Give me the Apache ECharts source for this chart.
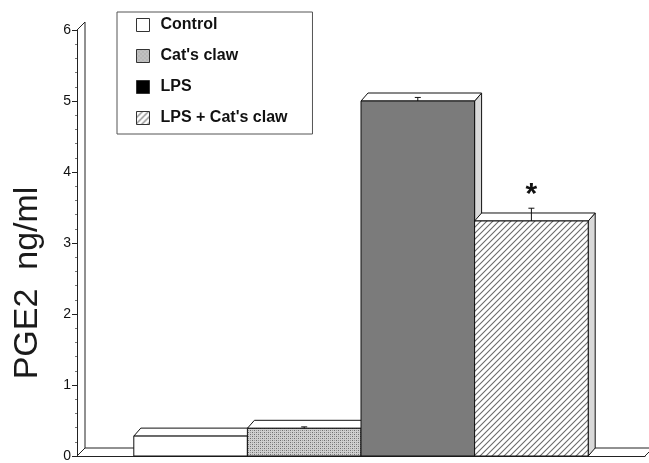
<!DOCTYPE html>
<html><head><meta charset="utf-8">
<script src="https://cdn.jsdelivr.net/npm/echarts@6/dist/echarts.min.js"></script>
<style>html,body{margin:0;padding:0;background:#fff}#c{width:649px;height:463px}</style>
</head><body><div id="c"></div>
<script>
// ---- data ----
const groups = ['Control', "Cat's claw", 'LPS', "LPS + Cat's claw"];
const values = [0.28, 0.39, 5.0, 3.31];
const errors = [0.0, 0.02, 0.05, 0.18];
const significant = [false, false, false, true];
const yTicks = [0, 1, 2, 3, 4, 5, 6];
const yLabel = 'PGE2  ng/ml';

// ---- patterns ----
function makeHatch() {
  const c = document.createElement('canvas'); c.width = 6; c.height = 6;
  const g = c.getContext('2d');
  g.fillStyle = '#ffffff'; g.fillRect(0, 0, 6, 6);
  g.strokeStyle = '#6a6a6a'; g.lineWidth = 1.1;
  g.beginPath();
  g.moveTo(0, 6); g.lineTo(6, 0);
  g.moveTo(-1, 1); g.lineTo(1, -1);
  g.moveTo(5, 7); g.lineTo(7, 5);
  g.stroke();
  return { image: c, repeat: 'repeat' };
}
function makeStipple() {
  const c = document.createElement('canvas'); c.width = 4; c.height = 4;
  const g = c.getContext('2d');
  g.fillStyle = '#cfcfcf'; g.fillRect(0, 0, 4, 4);
  g.fillStyle = '#6f6f6f';
  g.fillRect(0, 0, 1, 1); g.fillRect(2, 2, 1, 1);
  g.fillStyle = '#9a9a9a';
  g.fillRect(2, 0, 1, 1); g.fillRect(0, 2, 1, 1);
  return { image: c, repeat: 'repeat' };
}
const hatch = makeHatch();
const stipple = makeStipple();
const frontFill = ['#ffffff', stipple, '#7b7b7b', hatch];
const legendFill = ['#ffffff', stipple, '#000000', hatch];

const DX = 7, DY = 8;
const yMin = yTicks[0], yMax = yTicks[yTicks.length - 1];
const nBars = groups.length;
const groupFrac = 0.8;

function frameRender(params, api) {
  const cs = params.coordSys;
  const x0 = cs.x, x1 = cs.x + cs.width;
  const yb = api.coord([0, yMin])[1];
  const yt = api.coord([0, yMax])[1];
  const st = { stroke: '#222', lineWidth: 1 };
  const ln = (a, b, c, d) => ({ type: 'line', shape: { x1: a, y1: b, x2: c, y2: d }, style: st, silent: true });
  return { type: 'group', children: [
    ln(x0 + DX + 1, yb - DY, x0 + DX + 1, yt - DY),
    ln(x0, yt, x0 + DX + 1, yt - DY),
    ln(x0, yb, x0 + DX + 1, yb - DY),
    ln(x0 + DX + 1, yb - DY, x1 + DX + 1, yb - DY),
    ln(x1, yb, x1 + DX + 1, yb - DY)
  ]};
}

function barRender(i) {
  return function (params, api) {
    const v = api.value(1), e = api.value(2);
    const base = api.coord([api.value(0), 0]);
    const top = api.coord([api.value(0), v]);
    const band = api.size([1, 0])[0];
    const w = band * groupFrac / nBars;
    const xa = base[0] - band * groupFrac / 2 + i * w;
    const xb = xa + w;
    const yb = base[1], yt = top[1];
    const cx = (xa + xb) / 2;
    const ye = api.coord([api.value(0), v + e])[1];
    const outline = { stroke: '#111', lineWidth: 1 };
    const children = [
      { type: 'polygon', shape: { points: [[xb, yt], [xb + DX, yt - DY], [xb + DX, yb - DY], [xb, yb]] },
        style: Object.assign({ fill: '#d9d9d9' }, outline) },
      { type: 'polygon', shape: { points: [[xa, yt], [xa + DX, yt - DY], [xb + DX, yt - DY], [xb, yt]] },
        style: Object.assign({ fill: '#ffffff' }, outline) },
      { type: 'rect', shape: { x: xa, y: yt, width: w, height: yb - yt },
        style: Object.assign({ fill: frontFill[i] }, outline) }
    ];
    if (e > 0) {
      children.push({ type: 'line', shape: { x1: cx, y1: yt, x2: cx, y2: ye }, style: { stroke: '#111', lineWidth: 1 } });
      children.push({ type: 'line', shape: { x1: cx - 3, y1: ye, x2: cx + 3, y2: ye }, style: { stroke: '#111', lineWidth: 1 } });
    }
    if (significant[i]) {
      children.push({ type: 'text', style: { text: '*', x: cx, y: ye + 2, align: 'center', verticalAlign: 'bottom',
        font: 'bold 30px "Liberation Sans", Arial, sans-serif', fill: '#111' } });
    }
    return { type: 'group', children };
  };
}

const series = [{
  type: 'custom', name: '__frame', renderItem: frameRender, data: [[0, 0]], silent: true, z: 1
}];
groups.forEach((g, i) => {
  series.push({
    type: 'custom', name: g, renderItem: barRender(i),
    itemStyle: { color: legendFill[i] },
    data: [[0, values[i], errors[i]]], z: 2
  });
});

const chart = echarts.init(document.getElementById('c'), null, { renderer: 'canvas' });
chart.setOption({
  animation: false,
  backgroundColor: '#ffffff',
  grid: { left: 77, right: 4, top: 30, bottom: 4 },
  xAxis: {
    type: 'category', data: [''],
    axisLine: { show: true, lineStyle: { color: '#222', width: 1 } },
    axisTick: { show: false }, axisLabel: { show: false }
  },
  yAxis: {
    type: 'value', min: yMin, max: yMax, interval: 1,
    axisLine: { show: true, lineStyle: { color: '#222', width: 1 } },
    axisTick: { show: true, length: 5, lineStyle: { color: '#222' } },
    minorTick: { show: true, splitNumber: 5, length: 2, lineStyle: { color: '#777' } },
    axisLabel: { fontSize: 14, color: '#111', margin: 6, fontFamily: '"Liberation Sans", Arial, sans-serif' },
    splitLine: { show: false },
    name: yLabel, nameLocation: 'middle', nameRotate: 90, nameGap: 32,
    nameTextStyle: { fontSize: 34, color: '#1a1a1a', fontFamily: '"Liberation Sans", Arial, sans-serif', padding: [0, 80, 0, 0] }
  },
  legend: {
    orient: 'vertical', left: 117, top: 12,
    padding: [5, 25, 8, 19],
    borderColor: '#555', borderWidth: 1,
    itemWidth: 13, itemHeight: 13, itemGap: 15, icon: 'rect',
    selectedMode: false,
    textStyle: { fontFamily: '"Liberation Sans", Arial, sans-serif', fontWeight: 'bold', fontSize: 16, lineHeight: 16,
      color: '#111', padding: [0, 0, 0, 6] },
    data: groups.map((g, i) => ({ name: g, itemStyle: { color: legendFill[i], borderColor: '#333', borderWidth: 1 } }))
  },
  series
});
</script></body></html>
